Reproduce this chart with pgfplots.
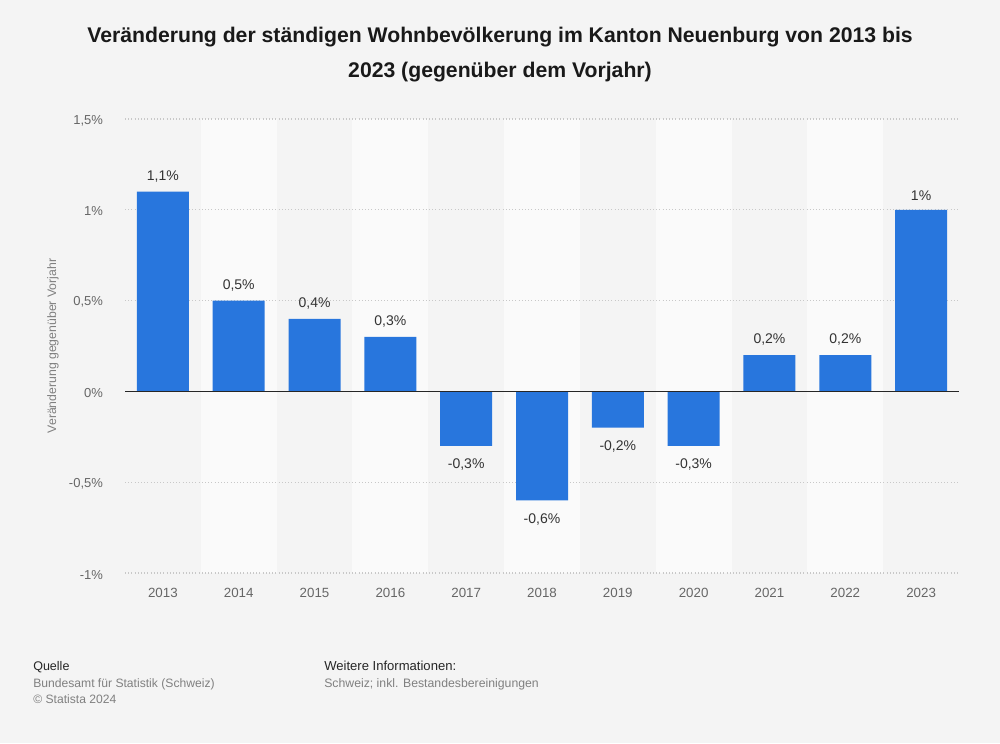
\documentclass[border=0pt]{standalone}
\usepackage{pgfplots}
\pgfplotsset{compat=1.18}
\usepackage{fontspec}
\setmainfont{Liberation Sans}
\definecolor{bg}{HTML}{F4F4F4}
\definecolor{band}{HTML}{FAFAFA}
\definecolor{barblue}{HTML}{2876DD}
\definecolor{ticktxt}{HTML}{666666}
\definecolor{lbltxt}{HTML}{333333}
\definecolor{gridc}{HTML}{C8C8C8}
\definecolor{foot}{HTML}{808080}
\pgfplotsset{
  layers/mylayers/.define layer set={bglayer,axis background,axis grid,axis ticks,axis lines,axis tick labels,pre main,main,axis descriptions,axis foreground}{},
}
\begin{document}
\begin{tikzpicture}
\node[font=\bfseries\fontsize{15.9}{26.25}\selectfont, align=center, text=black!90] at (375pt,516.25pt) {Veränderung der ständigen Wohnbevölkerung im Kanton Neuenburg von 2013 bis\\2023 (gegenüber dem Vorjahr)};
\begin{axis}[
  set layers=mylayers,
  at={(93.75pt,127.5pt)}, anchor=south west,
  scale only axis, width=625.5pt, height=340.5pt,
  xmin=-0.5, xmax=10.5, ymin=-1, ymax=1.5,
  axis line style={draw=none},
  ytick={-1,-0.5,0,0.5,1,1.5},
  yticklabels={{-1\%},{-0,5\%},{0\%},{0,5\%},{1\%},{1,5\%}},
  xtick={0,...,10},
  xticklabels={2013,2014,2015,2016,2017,2018,2019,2020,2021,2022,2023},
  tick style={draw=none},
  ymajorgrids, grid style={gridc, dotted, line width=0.8pt},
  yticklabel style={font=\fontsize{9.75}{12}\selectfont, text=ticktxt, xshift=-13pt, yshift=-1.2pt},
  xticklabel style={font=\fontsize{10}{12}\selectfont, text=ticktxt, yshift=-8pt},
  ylabel={Veränderung gegenüber Vorjahr},
  every axis y label/.style={at={(axis description cs:0,0.5)}, xshift=-54pt, rotate=90, anchor=center, font=\fontsize{9.2}{11}\selectfont, text=foot},
  clip=false,
]
\begin{pgfonlayer}{axis background}
\fill[band] (axis cs:0.5,-1) rectangle (axis cs:1.5,1.5);
\fill[band] (axis cs:2.5,-1) rectangle (axis cs:3.5,1.5);
\fill[band] (axis cs:4.5,-1) rectangle (axis cs:5.5,1.5);
\fill[band] (axis cs:6.5,-1) rectangle (axis cs:7.5,1.5);
\fill[band] (axis cs:8.5,-1) rectangle (axis cs:9.5,1.5);
\end{pgfonlayer}
\addplot[ybar, bar width=39pt, bar shift=0pt, fill=barblue, draw=none,
  point meta=explicit symbolic,
  nodes near coords,
  nodes near coords style={font=\fontsize{10.5}{12}\selectfont, text=lbltxt, inner ysep=7pt, anchor=south},
] coordinates {
  (0,1.1) [{1,1\%}]
  (1,0.5) [{0,5\%}]
  (2,0.4) [{0,4\%}]
  (3,0.3) [{0,3\%}]
  (8,0.2) [{0,2\%}]
  (9,0.2) [{0,2\%}]
  (10,1.0) [{1\%}]
};
\addplot[ybar, bar width=39pt, bar shift=0pt, fill=barblue, draw=none,
  point meta=explicit symbolic,
  nodes near coords,
  nodes near coords style={font=\fontsize{10.5}{12}\selectfont, text=lbltxt, inner ysep=9.5pt, anchor=north},
] coordinates {
  (4,-0.3) [{-0,3\%}]
  (5,-0.6) [{-0,6\%}]
  (6,-0.2) [{-0,2\%}]
  (7,-0.3) [{-0,3\%}]
};
\draw[black!85, line width=0.9pt] (axis cs:-0.5,0) -- (axis cs:10.5,0);
\end{axis}
\begin{pgfonlayer}{bglayer}
\fill[bg] (0pt,0pt) rectangle (750pt,557.25pt);
\end{pgfonlayer}
\node[anchor=base west, inner sep=0pt, font=\fontsize{9.4}{11}\selectfont, text=black!85] at (24.75pt,54.5pt) {Quelle};
\node[anchor=base west, inner sep=0pt, font=\fontsize{9.1}{11}\selectfont, text=foot] at (24.75pt,41.75pt) {Bundesamt für Statistik (Schweiz)};
\node[anchor=base west, inner sep=0pt, font=\fontsize{9.1}{11}\selectfont, text=foot] at (24.75pt,29.75pt) {© Statista 2024};
\node[anchor=base west, inner sep=0pt, font=\fontsize{9.8}{11}\selectfont, text=black!85] at (243pt,54.5pt) {Weitere Informationen:};
\node[anchor=base west, inner sep=0pt, font=\fontsize{9.2}{11}\selectfont, text=foot] at (243pt,41.75pt) {Schweiz; inkl. Bestandesbereinigungen};
\end{tikzpicture}
\end{document}
